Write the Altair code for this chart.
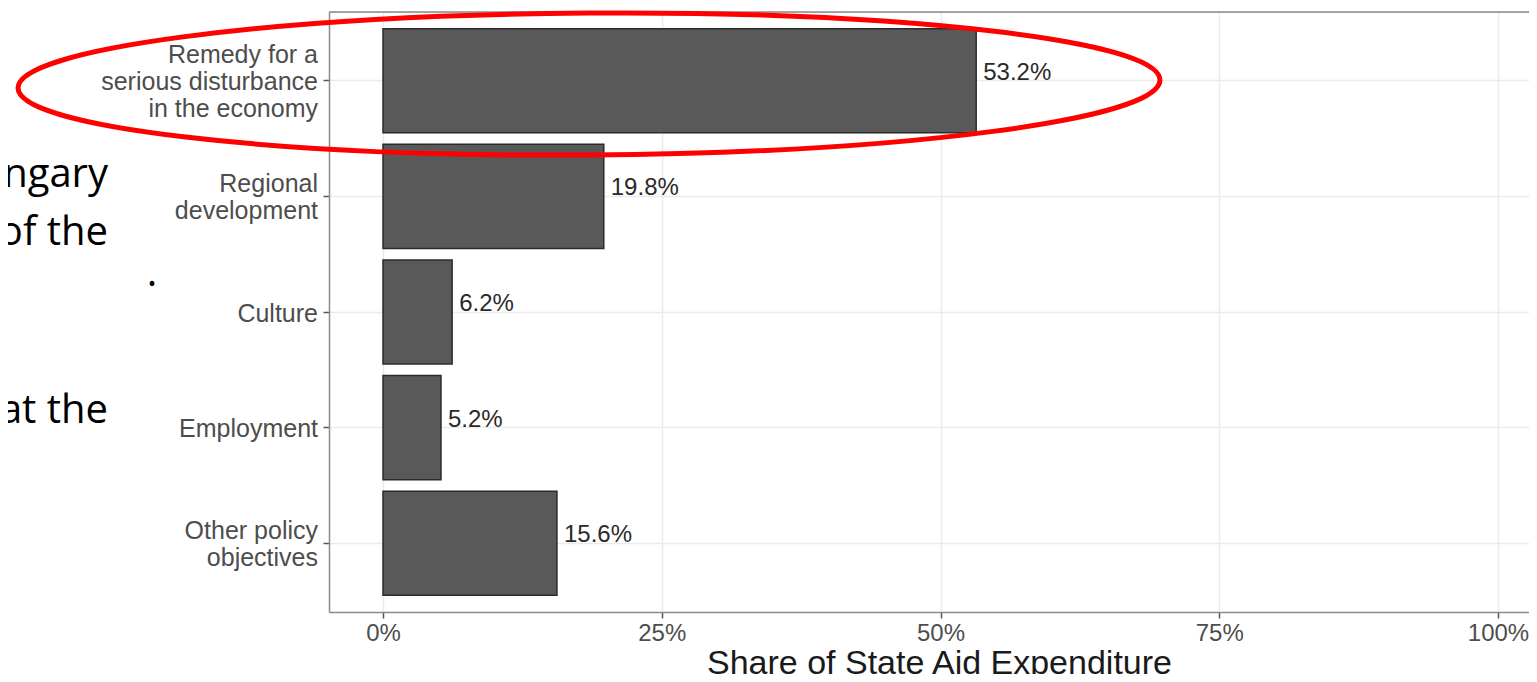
import altair as alt
import pandas as pd

# ---- data ----
categories = [
    "Remedy for a|serious disturbance|in the economy",
    "Regional|development",
    "Culture",
    "Employment",
    "Other policy|objectives",
]
shares = [53.2, 19.8, 6.2, 5.2, 15.6]
value_labels = ["53.2%", "19.8%", "6.2%", "5.2%", "15.6%"]
x_ticks = [0, 25, 50, 75, 100]
x_title = "Share of State Aid Expenditure"
slide_lines_top = ["ngary", "of the"]
slide_line_bottom = "at the"
slide_dot = "."

df = pd.DataFrame({"cat": categories, "share": shares, "label": value_labels})
one = pd.DataFrame({"k": [0]})

FONT = "Liberation Sans"
W, H = 1200, 600
LH = 27

x_enc = alt.X(
    "share:Q",
    scale=alt.Scale(domain=[-4.843, 102.78], nice=False, zero=False),
    axis=alt.Axis(
        values=x_ticks,
        labelExpr="datum.value + '%'",
        labelFont=FONT,
        labelFontSize=24,
        labelColor="#4D4D4D",
        labelPadding=3,
        tickSize=6,
        tickColor="#555555",
        tickWidth=1.5,
        domainColor="#8a8a8a",
        domainWidth=1.5,
        grid=True,
        gridColor="#EBEBEB",
        gridWidth=1.5,
        title=x_title,
        titleFont=FONT,
        titleFontSize=34,
        titleFontWeight="normal",
        titleColor="#1a1a1a",
        titleAlign="center",
        titleBaseline="alphabetic",
        titleX=610,
        titleY=61,
    ),
)
y_enc = alt.Y(
    "cat:N",
    sort=categories,
    scale=alt.Scale(paddingInner=0.1, paddingOuter=0.145),
    axis=alt.Axis(
        title=None,
        labels=False,
        tickSize=6,
        tickColor="#555555",
        tickWidth=1.5,
        domainColor="#8a8a8a",
        domainWidth=1.5,
        grid=True,
        gridColor="#EBEBEB",
        gridWidth=1.5,
        bandPosition=0.5,
    ),
)

bars = alt.Chart(df).mark_bar(
    color="#595959", stroke="#2b2b2b", strokeWidth=1.5
).encode(x=x_enc, y=y_enc)

labels = alt.Chart(df).mark_text(
    align="left", baseline="alphabetic", dx=7, dy=-1,
    font=FONT, fontSize=24, color="#2a2a2a"
).encode(x="share:Q", y=alt.Y("cat:N", sort=categories), text="label:N")


def cat_labels(n):
    return alt.Chart(df).transform_calculate(
        n="length(split(datum.cat, '|'))"
    ).transform_filter(f"datum.n == {n}").mark_text(
        align="right", baseline="middle", lineBreak="|", lineHeight=LH,
        dy=-(n - 1) * LH / 2 + 1.5, font=FONT, fontSize=25, color="#4D4D4D"
    ).encode(x=alt.value(-11), y=alt.Y("cat:N", sort=categories), text="cat:N")


top_border = alt.Chart(one).mark_rule(color="#8a8a8a", strokeWidth=1.5).encode(
    x=alt.value(0), x2=alt.value(W), y=alt.value(0)
)

ellipse_path = (
    "M-1,0 C-1,-0.0687 -0.5523,-0.1243 0,-0.1243 "
    "C0.5523,-0.1243 1,-0.0687 1,0 "
    "C1,0.0687 0.5523,0.1243 0,0.1243 "
    "C-0.5523,0.1243 -1,0.0687 -1,0 Z"
)
ellipse = alt.Chart(one).mark_point(
    shape=ellipse_path, size=1142 * 1142, filled=False,
    stroke="#ff0000", strokeWidth=5, opacity=1, angle=359.6
).encode(x=alt.value(260), y=alt.value(72))

slide_text_top = alt.Chart(one).mark_text(
    text=slide_lines_top, align="right", baseline="alphabetic",
    font="Open Sans", fontSize=40, lineHeight=58, color="#000000"
).encode(x=alt.value(-221), y=alt.value(175))

slide_text_bottom = alt.Chart(one).mark_text(
    text=slide_line_bottom, align="right", baseline="alphabetic",
    font="Open Sans", fontSize=40, color="#000000"
).encode(x=alt.value(-221), y=alt.value(411))

slide_dot_text = alt.Chart(one).mark_text(
    text=slide_dot, align="center", baseline="alphabetic",
    font="Open Sans", fontSize=40, color="#000000"
).encode(x=alt.value(-177), y=alt.value(274))

chart = alt.layer(
    bars, labels, cat_labels(1), cat_labels(2), cat_labels(3),
    top_border, ellipse, slide_text_top, slide_text_bottom, slide_dot_text
).properties(
    width=W, height=H,
    padding={"left": 321, "top": 4, "right": 0, "bottom": 62},
    autosize=alt.AutoSizeParams(type="none"),
).configure_view(stroke=None).configure(background="white")

chart.save("out.html", embed_options={"renderer": "svg", "actions": False})
